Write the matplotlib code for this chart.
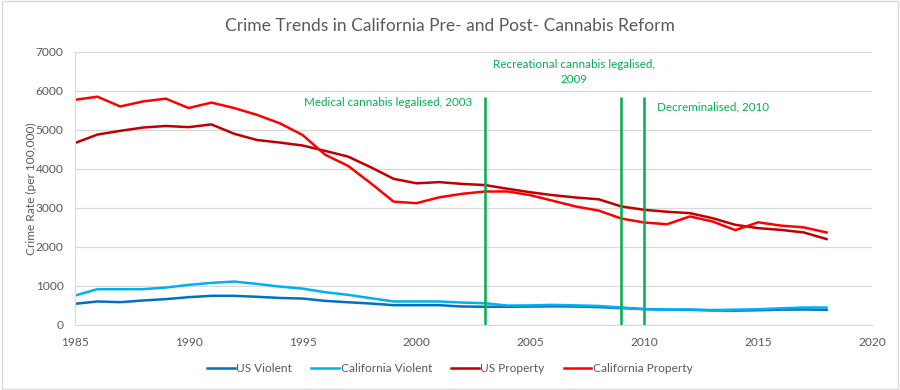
import matplotlib.pyplot as plt
from matplotlib.patches import Rectangle

plt.rcParams['font.family'] = ['Lato', 'DejaVu Sans']

years = list(range(1985, 2019))
us_violent = [540, 600, 582, 625, 660, 710, 745, 745, 720, 690, 675, 615, 580, 547, 505,
              505, 505, 470, 465, 465, 470, 475, 470, 455, 430, 405, 390, 385, 370, 365,
              375, 390, 395, 385]
ca_violent = [750, 915, 915, 915, 957, 1025, 1077, 1110, 1050, 982, 930, 837, 770, 684, 600,
              600, 600, 572, 555, 495, 500, 513, 500, 485, 445, 402, 390, 395, 380, 390,
              400, 425, 445, 445]
us_property = [4660, 4880, 4975, 5060, 5100, 5070, 5140, 4900, 4740, 4675, 4600, 4460, 4315,
               4040, 3745, 3630, 3660, 3615, 3585, 3490, 3400, 3325, 3265, 3220, 3035, 2950,
               2900, 2865, 2735, 2565, 2480, 2435, 2370, 2200]
ca_property = [5770, 5850, 5600, 5730, 5800, 5560, 5700, 5560, 5385, 5170, 4870, 4360, 4077,
               3630, 3160, 3120, 3270, 3360, 3420, 3420, 3325, 3180, 3035, 2930, 2725, 2625,
               2580, 2780, 2650, 2430, 2630, 2545, 2500, 2370]

series = [("US Violent", us_violent, "#0070C0"),
          ("California Violent", ca_violent, "#00B0F0"),
          ("US Property", us_property, "#C00000"),
          ("California Property", ca_property, "#FF0000")]

events = [2003, 2009, 2010]
event_top = 5850
green = "#00B050"
grey = "#595959"

fig = plt.figure(figsize=(9, 3.9), dpi=100)
ax = fig.add_axes([0.083, 0.167, 0.886, 0.700])

for name, vals, col in series:
    ax.plot(years, vals, color=col, lw=1.8, label=name)

ax.vlines(events, 0, event_top, color=green, lw=1.8)

ax.text(1998.75, 5690, "Medical cannabis legalised, 2003", color=green, fontsize=8.4,
        ha='center', va='center')
ax.text(2006.9, 6475, "Recreational cannabis legalised,\n2009", color=green, fontsize=8.4,
        ha='center', va='center', linespacing=1.45)
ax.text(2013.0, 5600, "Decreminalised, 2010", color=green, fontsize=8.4, ha='center', va='center')

ax.set_xlim(1985, 2020)
ax.set_ylim(0, 7000)
ax.set_xticks(range(1985, 2021, 5))
ax.set_yticks(range(0, 7001, 1000))
ax.grid(axis='y', color='#D9D9D9', lw=0.9)
ax.set_axisbelow(True)
for s in ['top', 'right']:
    ax.spines[s].set_visible(False)
ax.spines['bottom'].set_color('#D9D9D9')
ax.spines['left'].set_color('#D9D9D9')
ax.tick_params(length=0, labelsize=8.6, colors=grey)
ax.tick_params(axis='x', pad=9)
ax.tick_params(axis='y', pad=8)
ax.set_ylabel("Crime Rate (per 100,000)", fontsize=8.6, color=grey, labelpad=-1)

fig.suptitle("Crime Trends in California Pre- and Post- Cannabis Reform", y=0.955, fontsize=12.5,
             color=grey)
fig.legend(loc='center', bbox_to_anchor=(0.5, 0.055), ncol=4, frameon=False, fontsize=8.6,
           handlelength=2.3, handletextpad=0.15, columnspacing=1.6, labelcolor=grey)

fig.patches.append(Rectangle((0.002, 0.003), 0.996, 0.994, transform=fig.transFigure,
                             fill=False, ec='#D9D9D9', lw=1))

fig.savefig("out.png", dpi=100)
